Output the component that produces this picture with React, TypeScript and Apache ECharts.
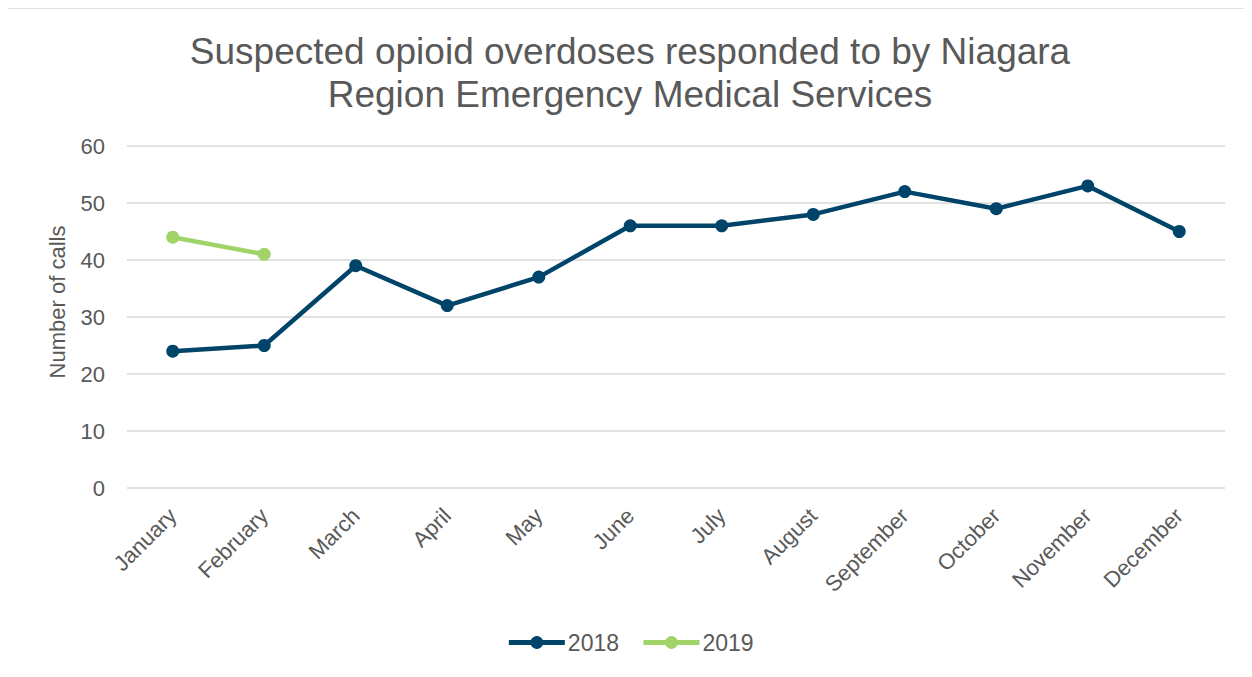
import React, { useEffect, useRef } from "react";
import * as echarts from "echarts";

const months = ["January","February","March","April","May","June","July","August","September","October","November","December"];
const calls2018 = [24, 25, 39, 32, 37, 46, 46, 48, 52, 49, 53, 45];
const calls2019 = [44, 41];
const yTicks = { min: 0, max: 60, interval: 10 };

export default function App() {
  const ref = useRef<HTMLDivElement>(null);
  useEffect(() => {
    const chart = echarts.init(ref.current!, null, { renderer: "svg" });
    const font = "'Liberation Sans', Arial, sans-serif";
    chart.setOption({
      animation: false,
      textStyle: { fontFamily: font },
      graphic: [
        { type: "rect", shape: { x: -1, y: 0, width: 3000, height: 3000 }, style: { fill: "none", stroke: "#d9d9d9", lineWidth: 1.5 }, silent: true },
        {
          type: "text",
          x: 49,
          y: 294,
          rotation: Math.PI / 2,
          style: { text: "Number of calls", fontSize: 22, fill: "#595959", fontFamily: font, textAlign: "center", textVerticalAlign: "middle" },
          silent: true,
        },
      ],
      title: {
        text: "Suspected opioid overdoses responded to by Niagara\nRegion Emergency Medical Services",
        left: "center",
        top: 17,
        textStyle: { fontFamily: font, fontSize: 37, fontWeight: "normal", color: "#595959", lineHeight: 43 },
      },
      grid: { left: 119, right: 27, top: 138, bottom: 189, containLabel: false },
      legend: {
        top: 618,
        left: "center",
        itemWidth: 56,
        itemHeight: 16,
        itemGap: 22,
        lineStyle: { width: 5 },
        textStyle: { fontFamily: font, fontSize: 23, color: "#595959", padding: [0, 0, 0, -2] },
        data: ["2018", "2019"],
      },
      xAxis: {
        type: "category",
        data: months,
        boundaryGap: true,
        axisLine: { show: false },
        axisTick: { show: false },
        axisLabel: { rotate: 45, fontSize: 22, color: "#595959", margin: 24, fontFamily: font },
      },
      yAxis: {
        type: "value",
        min: yTicks.min,
        max: yTicks.max,
        interval: yTicks.interval,
        axisLine: { show: false },
        axisTick: { show: false },
        axisLabel: { fontSize: 22, color: "#595959", margin: 22, fontFamily: font },
        splitLine: { lineStyle: { color: "#d9d9d9", width: 1.5 } },
      },
      series: [
        {
          name: "2018",
          type: "line",
          data: calls2018,
          symbol: "circle",
          symbolSize: 13,
          color: "#00446a",
          lineStyle: { width: 4.5, color: "#00446a" },
          itemStyle: { color: "#00446a" },
        },
        {
          name: "2019",
          type: "line",
          data: calls2019,
          symbol: "circle",
          symbolSize: 13,
          color: "#a0d468",
          lineStyle: { width: 4.5, color: "#a0d468" },
          itemStyle: { color: "#a0d468" },
        },
      ],
    });
    return () => chart.dispose();
  }, []);
  return <div ref={ref} style={{ width: 1244, height: 669 }} />;
}
